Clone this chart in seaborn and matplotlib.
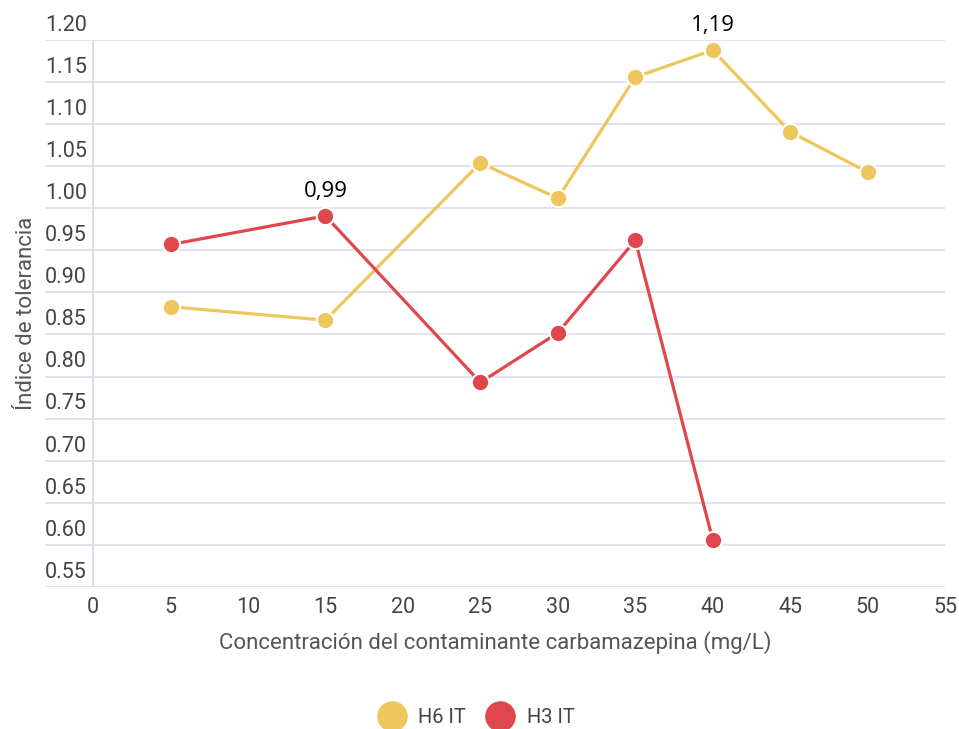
import pandas as pd
import seaborn as sns
import matplotlib.pyplot as plt
from matplotlib.lines import Line2D
from matplotlib import transforms

# data
conc_h6 = [5, 15, 25, 30, 35, 40, 45, 50]
it_h6 = [0.883, 0.867, 1.054, 1.012, 1.156, 1.188, 1.091, 1.043]
conc_h3 = [5, 15, 25, 30, 35, 40]
it_h3 = [0.957, 0.991, 0.793, 0.852, 0.962, 0.606]
series_names = ["H6 IT", "H3 IT"]
colors = ["#EEC65C", "#DF474D"]
x_ticks = [0, 5, 10, 15, 20, 25, 30, 35, 40, 45, 50, 55]
y_ticks = [0.55, 0.60, 0.65, 0.70, 0.75, 0.80, 0.85, 0.90, 0.95, 1.00, 1.05, 1.10, 1.15, 1.20]

df = pd.concat([
    pd.DataFrame({"conc": conc_h6, "it": it_h6, "serie": series_names[0]}),
    pd.DataFrame({"conc": conc_h3, "it": it_h3, "serie": series_names[1]}),
])

sns.set_style("white")
plt.rcParams['font.family'] = ['Roboto', 'DejaVu Sans']

fig = plt.figure(figsize=(9.59, 7.29), dpi=100)
ax = fig.add_axes([0.047, 0.195, 0.9385, 0.750])

sns.lineplot(data=df, x="conc", y="it", hue="serie", palette=colors,
             marker="o", markersize=12.5, markeredgecolor="white", markeredgewidth=1.5,
             linewidth=2.3, legend=False, ax=ax, zorder=3)

ax.set_xlim(-3.1, 55)
ax.set_ylim(0.55, 1.20)
ax.set_xticks(x_ticks)
ax.set_xticklabels([str(t) for t in x_ticks])
ax.set_yticks(y_ticks)
ax.set_yticklabels([f"{t:.2f}" for t in y_ticks])
for lab in ax.get_yticklabels():
    lab.set_ha("left")
    lab.set_va("bottom")
ax.tick_params(axis="y", length=0, pad=0, labelsize=15.5, labelcolor="#444444")
ax.tick_params(axis="x", length=0, pad=7, labelsize=15.5, labelcolor="#444444")
# shift y labels up a bit off the grid line
offset = transforms.ScaledTranslation(0, 3 / 72, fig.dpi_scale_trans)
for lab in ax.get_yticklabels():
    lab.set_transform(lab.get_transform() + offset)

ax.grid(axis="y", color="#DDDCEC", linewidth=1.2)
ax.axvline(0, color="#DCD6EA", linewidth=1.2, zorder=1)
for s in ax.spines.values():
    s.set_visible(False)

ax.set_xlabel("Concentración del contaminante carbamazepina (mg/L)", fontsize=16,
              color="#555555", labelpad=10)
ax.set_ylabel("Índice de tolerancia", fontsize=16, color="#555555")
ax.yaxis.set_label_coords(-0.009, 0.5)

# value labels
ax.annotate("0,99", (conc_h3[1], it_h3[1]), xytext=(0, 10), textcoords="offset points",
            ha="center", va="bottom", fontsize=16, family="Open Sans", color="black")
ax.annotate("1,19", (conc_h6[5], it_h6[5]), xytext=(0, 10), textcoords="offset points",
            ha="center", va="bottom", fontsize=16, family="Open Sans", color="black")

handles = [Line2D([], [], marker="o", linestyle="", markersize=21, color=c) for c in colors]
fig.legend(handles, series_names, loc="center", bbox_to_anchor=(0.4935, 0.016), ncol=2,
           frameon=False, fontsize=14.5, handletextpad=0.3, columnspacing=0.7,
           labelcolor="#444444")

plt.savefig("out.png", dpi=100)
